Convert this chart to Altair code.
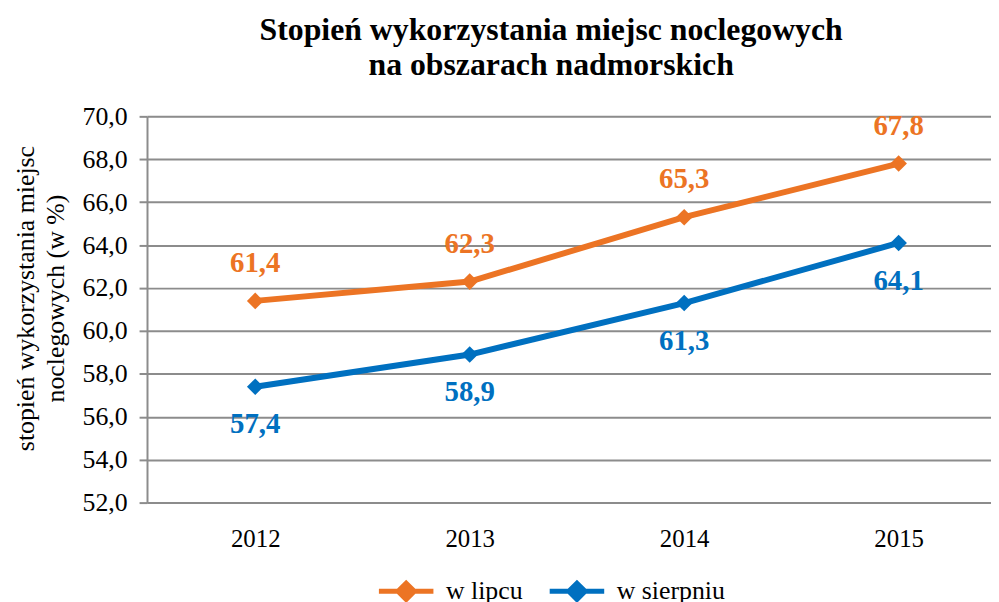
import altair as alt
import pandas as pd

years = [2012, 2013, 2014, 2015]
lipiec = [61.4, 62.3, 65.3, 67.8]
sierpien = [57.4, 58.9, 61.3, 64.1]
series_names = ["w lipcu", "w sierpniu"]
colors = ["#EC7424", "#0070C0"]
y_ticks = [52, 54, 56, 58, 60, 62, 64, 66, 68, 70]

rows = []
for name, vals in zip(series_names, [lipiec, sierpien]):
    for yr, v in zip(years, vals):
        rows.append({"rok": yr, "seria": name, "wartosc": v,
                     "etykieta": f"{v:.1f}".replace(".", ",")})
df = pd.DataFrame(rows)

FONT = "Liberation Serif"

color_scale = alt.Scale(domain=series_names, range=colors)
x_enc = alt.X("rok:Q", scale=alt.Scale(domain=[2011.4954, 2015.4306], nice=False, zero=False),
              axis=alt.Axis(values=years, format="d", title=None, grid=False, ticks=False,
                            labelFontSize=25, labelFont=FONT, labelColor="#000000",
                            labelPadding=24, domainColor="#8c8c8c", domainWidth=2))
y_enc = alt.Y("wartosc:Q", scale=alt.Scale(domain=[52, 70], nice=False, zero=False),
              axis=alt.Axis(values=y_ticks,
                            labelExpr="replace(format(datum.value, '.1f'), '.', ',')",
                            title=["stopień wykorzystania miejsc", "noclegowych (w %)"],
                            titleFont=FONT, titleFontSize=26, titleFontWeight="normal",
                            titleColor="#000000", titleAngle=-90, titleX=-135, titleY=183,
                            titleAlign="center", titleBaseline="top", titleLineHeight=30,
                            labelFontSize=26, labelFont=FONT, labelColor="#000000",
                            labelPadding=12, tickSize=8, tickColor="#8c8c8c", tickWidth=2,
                            gridColor="#8c8c8c", gridWidth=2, domainColor="#8c8c8c",
                            domainWidth=2))

legend_symbol = "M-1.5,0L1.5,0M0,-0.45L0.45,0L0,0.45L-0.45,0Z"
legend = alt.Legend(title=None, orient="none", legendX=240, legendY=457, direction="horizontal",
                    symbolType=legend_symbol, symbolSize=1340, symbolStrokeWidth=5,
                    labelFont=FONT, labelFontSize=26, labelColor="#000000",
                    columnPadding=16, labelOffset=19)

base = alt.Chart(df)
line = base.mark_line(strokeWidth=6).encode(
    x=x_enc, y=y_enc,
    color=alt.Color("seria:N", scale=color_scale, legend=legend))
pts = base.mark_point(shape="diamond", filled=True, size=280, opacity=1).encode(
    x="rok:Q", y="wartosc:Q",
    fill=alt.Fill("seria:N", scale=color_scale, legend=None))
txt_up = base.transform_filter(alt.datum.seria == series_names[0]).mark_text(
    dy=-38, font=FONT, fontSize=29, fontWeight="bold", color=colors[0]).encode(
    x="rok:Q", y="wartosc:Q", text="etykieta:N")
txt_down = base.transform_filter(alt.datum.seria == series_names[1]).mark_text(
    dy=38, font=FONT, fontSize=29, fontWeight="bold", color=colors[1]).encode(
    x="rok:Q", y="wartosc:Q", text="etykieta:N")

chart = alt.layer(line, pts, txt_up, txt_down).properties(
    width=850, height=389,
    autosize=alt.AutoSizeParams(type="none"),
    padding={"left": 140, "top": 107, "right": 0, "bottom": 100},
    title=alt.TitleParams(["Stopień wykorzystania miejsc noclegowych", "na obszarach nadmorskich"],
                          font=FONT, fontSize=32, fontWeight="bold", color="#000000",
                          anchor="middle", dx=-18, offset=22, lineHeight=35),
).configure_view(stroke=None).configure(background="white")

chart.save("out.html", embed_options={"renderer": "svg", "actions": False})
